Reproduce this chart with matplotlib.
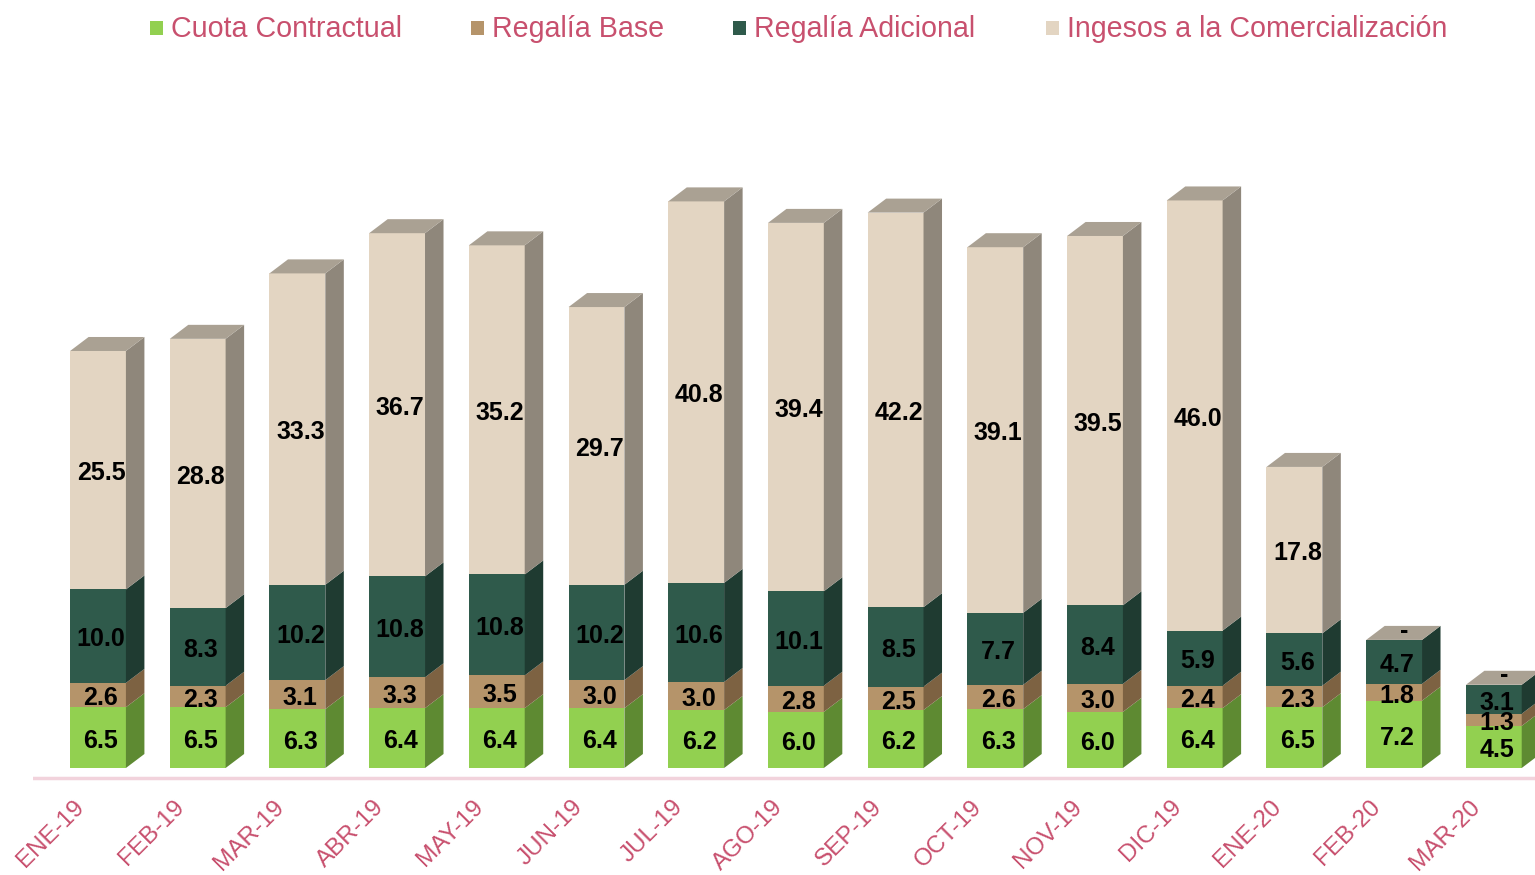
import matplotlib
matplotlib.use("Agg")
import matplotlib.pyplot as plt
from matplotlib.patches import Polygon, Rectangle

months = ["ENE-19", "FEB-19", "MAR-19", "ABR-19", "MAY-19", "JUN-19", "JUL-19",
          "AGO-19", "SEP-19", "OCT-19", "NOV-19", "DIC-19", "ENE-20", "FEB-20", "MAR-20"]
cuota = [6.5, 6.5, 6.3, 6.4, 6.4, 6.4, 6.2, 6.0, 6.2, 6.3, 6.0, 6.4, 6.5, 7.2, 4.5]
regalia_base = [2.6, 2.3, 3.1, 3.3, 3.5, 3.0, 3.0, 2.8, 2.5, 2.6, 3.0, 2.4, 2.3, 1.8, 1.3]
regalia_adic = [10.0, 8.3, 10.2, 10.8, 10.8, 10.2, 10.6, 10.1, 8.5, 7.7, 8.4, 5.9, 5.6, 4.7, 3.1]
ingresos = [25.5, 28.8, 33.3, 36.7, 35.2, 29.7, 40.8, 39.4, 42.2, 39.1, 39.5, 46.0, 17.8, 0.0, 0.0]

series = [cuota, regalia_base, regalia_adic, ingresos]
names = ["Cuota Contractual", "Regalía Base", "Regalía Adicional", "Ingesos a la Comercialización"]
front = ["#92d050", "#b5946a", "#2f5a4b", "#e3d5c2"]
side = ["#5e8a32", "#7d6242", "#1f3b31", "#8f877b"]
top_col = "#aaa193"
pink = "#c8506e"

W, H = 1535, 875
px_x = 99.7          # pixels per bar slot
px_y = 9.35          # pixels per unit
base_px = 107        # baseline from bottom
left_px = 33

fig = plt.figure(figsize=(W / 100, H / 100), dpi=100)
ax = fig.add_axes([left_px / W, 0, 1 - left_px / W, 1])
x0 = -(98 - left_px) / px_x
ax.set_xlim(x0, x0 + (W - left_px) / px_x)
ax.set_ylim(-base_px / px_y, (H - base_px) / px_y)
ax.axis("off")

bw = 0.56
dx = 18.5 / px_x
dy = 14 / px_y
font = ["Liberation Sans", "DejaVu Sans"]

for i in range(len(months)):
    xl, xr = i - bw / 2, i + bw / 2
    y0 = 0
    for s, vals in enumerate(series):
        v = vals[i]
        y1 = y0 + v
        if v > 0:
            ax.add_patch(Rectangle((xl, y0), bw, v, facecolor=front[s], edgecolor="none", zorder=2))
            ax.add_patch(Polygon([(xr, y0), (xr + dx, y0 + dy), (xr + dx, y1 + dy), (xr, y1)],
                                 closed=True, facecolor=side[s], edgecolor="none", zorder=2))
            ax.text(i + 0.03, (y0 + y1) / 2 - 0.35, f"{v:.1f}", ha="center", va="center",
                    fontsize=18, fontweight="bold", family=font, color="black", zorder=3)
        else:
            ax.text(i + 0.1, y1 + 1.0, "-", ha="center", va="center",
                    fontsize=18, fontweight="bold", family=font, color="black", zorder=3)
        y0 = y1
    ax.add_patch(Polygon([(xl, y0), (xr, y0), (xr + dx, y0 + dy), (xl + dx, y0 + dy)],
                         closed=True, facecolor=top_col, edgecolor="none", zorder=2))
    ax.text(i - 0.09, -3.0, months[i], rotation=45, ha="right", va="top",
            fontsize=17.5, family=font, color=pink)

ax.axhline(-10 / px_y, color="#f2d3dc", lw=2.5, zorder=1)

# legend
leg_x = [150, 471, 733, 1046]
for s in range(4):
    fig.patches.append(Rectangle((leg_x[s] / W, 1 - 35 / H), 13 / W, 14 / H,
                                 transform=fig.transFigure, facecolor=front[s], edgecolor="none"))
    fig.text((leg_x[s] + 21) / W, 1 - 29 / H, names[s], ha="left", va="center",
             fontsize=20.6, family=font, color=pink)

fig.savefig("out.png", dpi=100)
